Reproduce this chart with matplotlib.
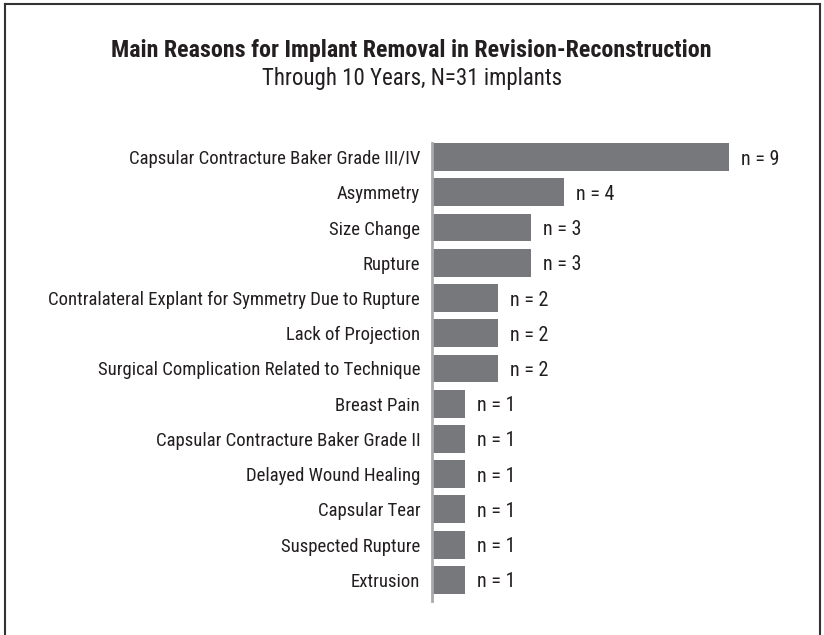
import matplotlib
matplotlib.use("Agg")
import matplotlib.pyplot as plt
from matplotlib.lines import Line2D

plt.rcParams['font.family'] = ['Roboto Condensed', 'DejaVu Sans']

reasons = [
    "Capsular Contracture Baker Grade III/IV",
    "Asymmetry",
    "Size Change",
    "Rupture",
    "Contralateral Explant for Symmetry Due to Rupture",
    "Lack of Projection",
    "Surgical Complication Related to Technique",
    "Breast Pain",
    "Capsular Contracture Baker Grade II",
    "Delayed Wound Healing",
    "Capsular Tear",
    "Suspected Rupture",
    "Extrusion",
]
counts = [9, 4, 3, 3, 2, 2, 2, 1, 1, 1, 1, 1, 1]

W, H = 824, 635
fig = plt.figure(figsize=(W / 100, H / 100), dpi=100)

# axes placed in pixel terms: axis line at x=432, 33 px per implant
ax = fig.add_axes([432 / W, 1 - 601 / H, 33 * 11 / W, (601 - 143) / H])
ypos = list(range(len(reasons)))
ax.barh(ypos, counts, height=0.79, color='#77787b', left=0)
ax.set_xlim(0, 11)
ax.set_ylim(len(reasons) - 0.4, -0.4)

for y, c in zip(ypos, counts):
    ax.text(c + 0.36, y, f"n = {c}", va='center_baseline', ha='left', fontsize=14.5, color='#231f20')

ax.set_yticks(ypos)
ax.set_yticklabels(reasons, fontsize=13.5, color='#231f20')
ax.tick_params(axis='y', length=0, pad=8.5)
ax.set_xticks([])
for s in ['top', 'right', 'bottom']:
    ax.spines[s].set_visible(False)
ax.spines['left'].set_color('#a7a9ac')
ax.spines['left'].set_linewidth(2)

fig.text(411 / W, 1 - 50 / H, "Main Reasons for Implant Removal in Revision-Reconstruction",
         ha='center', va='center', fontsize=17.3, fontweight='bold', color='#231f20')
fig.text(412 / W, 1 - 78 / H, "Through 10 Years, N=31 implants",
         ha='center', va='center', fontsize=16.5, color='#231f20')

# frame (open at the bottom)
fx0, fx1, fy = 5 / W, 820 / W, 1 - 4 / H
for xs, ys in [([fx0, fx0], [0, fy]), ([fx0, fx1], [fy, fy]), ([fx1, fx1], [fy, 0])]:
    fig.add_artist(Line2D(xs, ys, color='#333333', linewidth=1.5, transform=fig.transFigure))

fig.savefig("out.png", dpi=100)
